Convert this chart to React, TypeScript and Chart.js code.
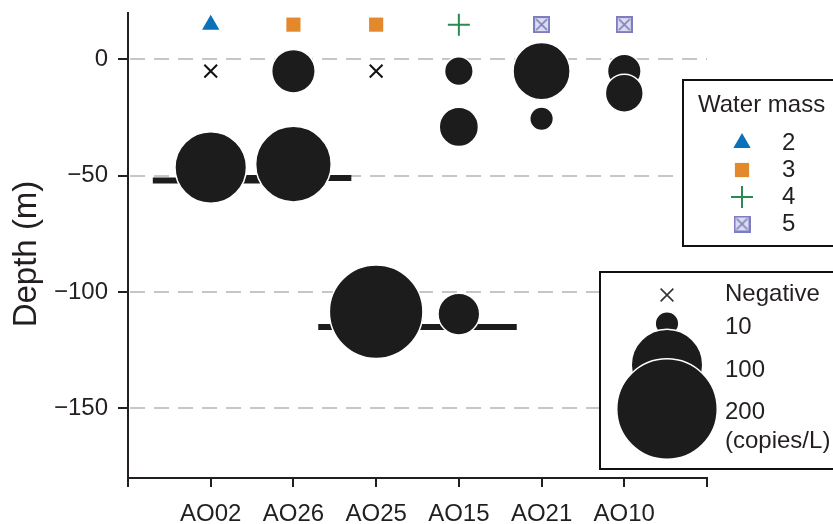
import React, { useEffect, useRef } from 'react';
import { Chart, registerables } from 'chart.js';

Chart.register(...registerables);

// Stations along the transect and their x positions
const stations = ['AO02', 'AO26', 'AO25', 'AO15', 'AO21', 'AO10'];
const stationX = [1, 2, 3, 4, 5, 6];

// Positive detections: station, sampling depth (m), abundance (copies/L)
const detStation = ['AO02', 'AO26', 'AO26', 'AO25', 'AO15', 'AO15', 'AO15', 'AO21', 'AO21', 'AO10', 'AO10'];
const detDepth = [-46.5, -5, -45, -108.5, -5, -29, -109.5, -5, -25.5, -5, -14.5];
const detCopies = [100, 36, 112, 173, 15, 29, 33, 63, 10, 21, 27];

// Samples with no detection
const negStation = ['AO02', 'AO25'];
const negDepth = [-5, -5];

// Water mass classification per station
const massStation = ['AO02', 'AO26', 'AO25', 'AO15', 'AO21', 'AO10'];
const massValue = [2, 3, 3, 4, 5, 5];
const massDepth = 15;

// Horizontal layer bars per station
const layerStation = ['AO02', 'AO26', 'AO25', 'AO15'];
const layerDepth = [-52, -51, -115, -115];
const layerHalfWidth = 0.7;

const depthTicks = [-150, -100, -50, 0];
const depthMin = -180;
const depthMax = 20;
const xMin = 0;
const xMax = 7;
const legendCopies = [10, 100, 200];
const legendMasses = [2, 3, 4, 5];

const FONT = '"Liberation Sans", Arial, Helvetica, sans-serif';
const TEXT = '#231f20';
const INK = '#1c1c1c';

const massColor: Record<number, string> = {
  2: '#0b71b8',
  3: '#e3882b',
  4: '#2a8a50',
  5: '#7d7dbf',
};

const bubbleR = (c: number) => 3.5 * Math.sqrt(c);
const posOf = (s: string) => stationX[stations.indexOf(s)];

function makeBoxedX(size: number, color: string, fill: string) {
  const c = document.createElement('canvas');
  c.width = size;
  c.height = size;
  const g = c.getContext('2d')!;
  const lw = 2;
  const o = lw / 2;
  g.fillStyle = fill;
  g.fillRect(o, o, size - lw, size - lw);
  g.strokeStyle = color;
  g.lineWidth = lw;
  g.strokeRect(o, o, size - lw, size - lw);
  g.lineWidth = 1.7;
  g.beginPath();
  g.moveTo(lw + 1, lw + 1);
  g.lineTo(size - lw - 1, size - lw - 1);
  g.moveTo(size - lw - 1, lw + 1);
  g.lineTo(lw + 1, size - lw - 1);
  g.stroke();
  return c;
}

function drawMassGlyph(ctx: CanvasRenderingContext2D, m: number, cx: number, cy: number, boxed: HTMLCanvasElement) {
  ctx.save();
  const col = massColor[m];
  if (m === 2) {
    const r = 10;
    ctx.fillStyle = col;
    ctx.beginPath();
    ctx.moveTo(cx, cy - r);
    ctx.lineTo(cx + r * 0.866, cy + r * 0.5);
    ctx.lineTo(cx - r * 0.866, cy + r * 0.5);
    ctx.closePath();
    ctx.fill();
  } else if (m === 3) {
    const h = 7.1;
    ctx.fillStyle = col;
    ctx.fillRect(cx - h, cy - h, 2 * h, 2 * h);
  } else if (m === 4) {
    const r = 11;
    ctx.strokeStyle = col;
    ctx.lineWidth = 2;
    ctx.beginPath();
    ctx.moveTo(cx - r, cy);
    ctx.lineTo(cx + r, cy);
    ctx.moveTo(cx, cy - r);
    ctx.lineTo(cx, cy + r);
    ctx.stroke();
  } else {
    ctx.drawImage(boxed, cx - boxed.width / 2, cy - boxed.height / 2);
  }
  ctx.restore();
}

export default function App() {
  const ref = useRef<HTMLCanvasElement | null>(null);

  useEffect(() => {
    if (!ref.current) return;
    const boxed = makeBoxedX(17, massColor[5], '#dcdcef');

    const massStyle: Record<number, any> = {
      2: { pointStyle: 'triangle', radius: 10, backgroundColor: massColor[2], borderColor: massColor[2], borderWidth: 0 },
      3: { pointStyle: 'rect', radius: 10, backgroundColor: massColor[3], borderColor: massColor[3], borderWidth: 0 },
      4: { pointStyle: 'cross', radius: 11, backgroundColor: massColor[4], borderColor: massColor[4], borderWidth: 2 },
      5: { pointStyle: boxed, radius: 9, backgroundColor: massColor[5], borderColor: massColor[5], borderWidth: 0 },
    };

    const layerSets = layerStation.map((s, i) => ({
      type: 'line' as const,
      order: 3,
      data: [
        { x: posOf(s) - layerHalfWidth, y: layerDepth[i] },
        { x: posOf(s) + layerHalfWidth, y: layerDepth[i] },
      ],
      borderColor: INK,
      borderWidth: 6,
      borderCapStyle: 'butt' as const,
      pointRadius: 0,
      fill: false,
    }));

    const bubbleSet = {
      type: 'bubble' as const,
      order: 1,
      data: detStation.map((s, i) => ({ x: posOf(s), y: detDepth[i], r: bubbleR(detCopies[i]) + 0.75 })),
      backgroundColor: INK,
      borderColor: '#ffffff',
      borderWidth: 1.5,
    };

    const negSet = {
      type: 'scatter' as const,
      order: 0,
      data: negStation.map((s, i) => ({ x: posOf(s), y: negDepth[i] })),
      pointStyle: 'crossRot',
      pointRadius: 9,
      borderColor: '#111111',
      borderWidth: 2,
    };

    const massSets = legendMasses.map((m) => {
      const st = massStyle[m];
      return {
        type: 'scatter' as const,
        order: 0,
        data: massStation
          .map((s, i) => ({ s, v: massValue[i] }))
          .filter((d) => d.v === m)
          .map((d) => ({ x: posOf(d.s), y: massDepth })),
        pointStyle: st.pointStyle,
        pointRadius: st.radius,
        backgroundColor: st.backgroundColor,
        borderColor: st.borderColor,
        borderWidth: st.borderWidth,
      };
    });

    const decor = {
      id: 'decor',
      beforeDatasetsDraw(chart: any) {
        const { ctx, chartArea: a, scales } = chart;
        const y = scales.y;
        ctx.save();
        ctx.strokeStyle = '#c6c6c6';
        ctx.lineWidth = 2;
        ctx.setLineDash([15, 9]);
        depthTicks.forEach((v) => {
          const py = Math.round(y.getPixelForValue(v));
          ctx.beginPath();
          ctx.moveTo(a.left + 2, py);
          ctx.lineTo(a.right, py);
          ctx.stroke();
        });
        ctx.restore();
      },
      afterDraw(chart: any) {
        const { ctx, chartArea: a, scales } = chart;
        const x = scales.x;
        const y = scales.y;
        ctx.save();
        // axis tick marks
        ctx.strokeStyle = TEXT;
        ctx.lineWidth = 2;
        depthTicks.forEach((v) => {
          const py = Math.round(y.getPixelForValue(v));
          ctx.beginPath();
          ctx.moveTo(a.left - 10, py);
          ctx.lineTo(a.left, py);
          ctx.stroke();
        });
        for (let i = xMin; i <= xMax; i++) {
          const px = Math.round(x.getPixelForValue(i));
          ctx.beginPath();
          ctx.moveTo(px, a.bottom);
          ctx.lineTo(px, a.bottom + 9);
          ctx.stroke();
        }

        // y-axis title
        ctx.save();
        ctx.translate(36, 254);
        ctx.rotate(-Math.PI / 2);
        ctx.fillStyle = TEXT;
        ctx.font = `33px ${FONT}`;
        ctx.textAlign = 'center';
        ctx.textBaseline = 'alphabetic';
        ctx.fillText('Depth (m)', 0, 0);
        ctx.restore();

        // water mass legend
        ctx.fillStyle = '#ffffff';
        ctx.fillRect(683, 80, 200, 166);
        ctx.strokeStyle = '#111111';
        ctx.lineWidth = 2;
        ctx.strokeRect(683, 80, 200, 166);
        ctx.fillStyle = TEXT;
        ctx.font = `24px ${FONT}`;
        ctx.textAlign = 'left';
        ctx.textBaseline = 'middle';
        ctx.fillText('Water mass', 698, 105);
        const rowY = [143, 170, 197, 224];
        legendMasses.forEach((m, i) => {
          drawMassGlyph(ctx, m, 742, rowY[i], boxed);
          ctx.fillStyle = TEXT;
          ctx.fillText(String(m), 782, rowY[i]);
        });

        // abundance legend
        ctx.fillStyle = '#ffffff';
        ctx.fillRect(600, 272, 240, 197);
        ctx.strokeStyle = '#111111';
        ctx.lineWidth = 2;
        ctx.strokeRect(600, 272, 240, 197);

        ctx.strokeStyle = '#333333';
        ctx.lineWidth = 1.6;
        const xr = 9 * Math.SQRT1_2;
        ctx.beginPath();
        ctx.moveTo(667 - xr, 295 - xr);
        ctx.lineTo(667 + xr, 295 + xr);
        ctx.moveTo(667 + xr, 295 - xr);
        ctx.lineTo(667 - xr, 295 + xr);
        ctx.stroke();

        const circY = [323.5, 365, 409];
        legendCopies.forEach((c, i) => {
          ctx.beginPath();
          ctx.arc(667, circY[i], bubbleR(c) + 0.75, 0, Math.PI * 2);
          ctx.fillStyle = INK;
          ctx.fill();
          ctx.strokeStyle = '#ffffff';
          ctx.lineWidth = 1.5;
          ctx.stroke();
        });

        ctx.fillStyle = TEXT;
        ctx.font = `24px ${FONT}`;
        ctx.textAlign = 'left';
        ctx.textBaseline = 'middle';
        ctx.fillText('Negative', 725, 294);
        const labY = [327, 370, 412.5];
        legendCopies.forEach((c, i) => ctx.fillText(String(c), 725, labY[i]));
        ctx.fillText('(copies/L)', 725, 441);
        ctx.restore();
      },
    };

    const chart = new Chart(ref.current, {
      type: 'bubble',
      data: { datasets: [...layerSets, bubbleSet, negSet, ...massSets] as any },
      options: {
        responsive: false,
        animation: false,
        events: [],
        layout: { autoPadding: false, padding: { top: 13, right: 126, left: 0, bottom: 0 } },
        plugins: { legend: { display: false }, tooltip: { enabled: false } },
        scales: {
          x: {
            type: 'linear',
            min: xMin,
            max: xMax,
            afterBuildTicks: (s: any) => {
              s.ticks = stationX.map((v) => ({ value: v }));
            },
            afterFit: (s: any) => {
              s.height = 46;
              s.paddingLeft = 0;
              s.paddingRight = 0;
              s.paddingTop = 0;
              s.paddingBottom = 0;
            },
            grid: { display: false, drawTicks: false },
            border: { display: true, color: TEXT, width: 2 },
            ticks: {
              callback: (v: any) => stations[stationX.indexOf(Number(v))] ?? '',
              font: { size: 24, family: FONT },
              color: TEXT,
              padding: 22,
              maxRotation: 0,
              autoSkip: false,
            },
          },
          y: {
            type: 'linear',
            min: depthMin,
            max: depthMax,
            afterBuildTicks: (s: any) => {
              s.ticks = depthTicks.map((v) => ({ value: v }));
            },
            afterFit: (s: any) => {
              s.width = 128;
              s.paddingLeft = 0;
              s.paddingRight = 0;
              s.paddingTop = 0;
              s.paddingBottom = 0;
            },
            grid: { display: false, drawTicks: false },
            border: { display: true, color: TEXT, width: 2 },
            ticks: {
              callback: (v: any) => (Number(v) < 0 ? '\u2212' + Math.abs(Number(v)) : String(v)),
              font: { size: 24, family: FONT },
              color: TEXT,
              padding: 20,
              autoSkip: false,
            },
          },
        },
      },
      plugins: [decor],
    });

    return () => chart.destroy();
  }, []);

  return (
    <div style={{ position: 'fixed', left: 0, top: 0, width: 833, height: 524, background: '#fff' }}>
      <canvas ref={ref} width={833} height={524} style={{ display: 'block' }} />
    </div>
  );
}
